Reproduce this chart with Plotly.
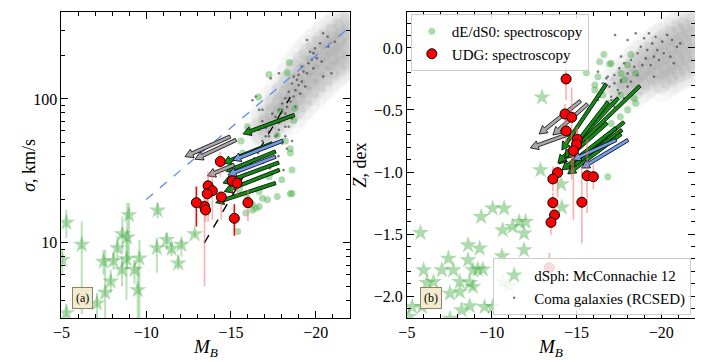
import math
import plotly.graph_objects as go

FONT = "Liberation Serif"

# ---------------- data ----------------
# Coma galaxies (RCSED): dense background cloud (panel a: M_B, sigma; panel b: M_B, Z)
coma_cloud_a_M = [-22.0, -22.0, -22.0, -22.0, -21.6, -21.6, -21.6, -21.6, -21.2, -21.2, -21.2, -21.2,
                  -20.8, -20.8, -20.8, -20.8, -20.4, -20.4, -20.4, -20.4, -20.0, -20.0, -20.0, -20.0,
                  -19.6, -19.6, -19.6, -19.6, -19.2, -19.2, -19.2, -19.2, -18.8, -18.8, -18.8, -18.8,
                  -18.4, -18.4, -18.4, -18.4, -18.0, -18.0, -18.0, -17.6, -17.6, -17.6, -17.2, -17.2,
                  -17.2, -16.8, -16.8]
coma_cloud_a_sig = [360, 290, 230, 180, 340, 270, 215, 170, 310, 250, 200, 160,
                    285, 230, 185, 145, 260, 210, 165, 130, 235, 190, 150, 118,
                    210, 170, 135, 105, 185, 150, 120, 95, 160, 130, 104, 84,
                    135, 110, 90, 74, 115, 95, 78, 95, 80, 66, 80, 68,
                    57, 66, 56]
coma_cloud_b_M = [-22.0, -22.0, -22.0, -22.0, -21.6, -21.6, -21.6, -21.6, -21.2, -21.2, -21.2, -21.2,
                  -20.8, -20.8, -20.8, -20.8, -20.4, -20.4, -20.4, -20.4, -20.0, -20.0, -20.0, -20.0,
                  -19.6, -19.6, -19.6, -19.2, -19.2, -19.2, -18.8, -18.8, -18.8, -18.4, -18.4, -18.4,
                  -18.0, -18.0, -17.6, -17.6, -17.2]
coma_cloud_b_Z = [0.22, 0.10, -0.02, -0.14, 0.20, 0.08, -0.04, -0.16, 0.17, 0.05, -0.07, -0.19,
                  0.14, 0.02, -0.10, -0.22, 0.10, -0.02, -0.14, -0.25, 0.06, -0.06, -0.18, -0.29,
                  0.02, -0.10, -0.22, -0.03, -0.14, -0.26, -0.08, -0.19, -0.30, -0.13, -0.24, -0.35,
                  -0.19, -0.30, -0.25, -0.36, -0.31]

# Coma galaxies (RCSED): individual galaxies
coma_a_M = [-20.44, -20.70, -19.48, -19.96, -19.67, -19.86, -20.06, -19.77, -20.35, -19.57, -19.18, -19.28,
            -19.48, -18.99, -18.70, -18.89, -19.18, -18.60, -18.99, -19.38, -18.80, -18.41, -19.09, -18.70,
            -18.21, -18.02, -18.50, -18.31, -18.80, -17.83, -18.21, -17.63, -18.60, -17.44, -17.92, -17.05,
            -17.83, -18.41, -17.24, -17.73, -18.21, -16.86, -17.53, -18.02, -18.60, -16.66, -16.27, -17.83,
            -17.34, -20.93, -20.74, -21.12, -20.25, -19.86, -20.44, -17.24, -17.63, -17.05, -16.66, -18.21,
            -17.83, -17.44, -18.02, -18.60, -16.85, -16.47, -16.86, -17.44, -18.10, -17.00, -16.60, -17.80,
            -16.90, -18.30, -17.30]
coma_a_sig = [286, 271, 257, 225, 213, 208, 192, 187, 182, 177, 168, 155,
              151, 147, 143, 136, 132, 128, 125, 122, 115, 112, 109, 104,
              101, 93, 96, 88, 88, 84, 79, 75, 75, 68, 70, 63,
              61, 64, 55, 56, 55, 51, 49, 49, 51, 84, 98, 151,
              139, 151, 231, 250, 244, 163, 143, 59, 55, 55, 61, 64,
              68, 79, 84, 73, 70, 104, 84, 30, 32, 45, 42, 40,
              36, 45, 33]
coma_b_M = [-17.28, -18.02, -18.50, -18.99, -19.28, -19.67, -20.06, -20.35, -20.64, -20.93, -19.47, -18.80,
            -19.18, -19.77, -20.15, -19.57, -19.09, -18.60, -18.21, -17.82, -17.53, -18.41, -18.89, -19.38,
            -19.86, -18.02, -18.60, -17.24, -17.63, -18.21, -16.95, -17.44, -16.56, -16.37, -17.05, -17.82,
            -18.41, -16.76, -16.27, -17.63, -20.54, -19.57, -21.12, -20.74, -16.85, -17.24, -17.63, -16.46,
            -17.05, -17.53, -18.02, -16.76, -17.24, -16.27]
coma_b_Z = [0.104, 0.064, 0.118, 0.078, 0.118, 0.091, 0.051, 0.104, 0.064, 0.010, 0.037, 0.010,
            -0.017, -0.017, -0.043, -0.070, -0.084, -0.043, -0.097, -0.124, -0.164, -0.151, -0.138, -0.138,
            -0.097, -0.205, -0.218, -0.218, -0.272, -0.272, -0.312, -0.339, -0.285, -0.393, -0.420, -0.406,
            -0.353, -0.245, -0.191, -0.070, -0.070, -0.232, 0.037, -0.124, -0.231, -0.285, -0.258, -0.339,
            -0.393, -0.366, -0.312, -0.446, -0.473, -0.420]

# dE/dS0: spectroscopy
de_a_M = [-18.45, -17.24, -18.31, -16.62, -18.76, -17.92, -18.70, -17.73, -18.50, -18.21, -15.98, -15.59,
          -15.69, -18.60, -18.50, -17.15, -16.47, -16.27, -16.66, -15.98, -15.50, -17.73, -15.40, -15.88,
          -18.00, -17.24, -18.60, -18.50, -16.66, -16.27, -16.86]
de_a_sig = [179, 148, 152, 103, 86, 82, 71, 56, 45, 51, 64, 51,
            42, 22, 42, 19.9, 17.4, 18.4, 22.7, 20.4, 23.6, 21.0, 12.0, 16.1,
            27.4, 28.8, 32.1, 21.9, 17.9, 16.8, 20.4]
de_b_M = [-16.62, -16.37, -16.95, -18.21, -18.02, -15.59, -16.27, -16.08, -16.56, -17.63, -18.41, -18.50,
          -17.63, -17.24, -17.05, -16.08, -17.82, -18.50, -18.02, -16.85, -17.05, -16.85, -17.59]
de_b_Z = [-0.052, -0.111, -0.130, -0.052, -0.137, -0.199, -0.232, -0.339, -0.379, -0.379, -0.406, -0.205,
          -0.205, -0.433, -0.124, -0.299, -0.258, -0.446, -0.500, -0.446, -0.608, -1.038, -0.554]

# dSph: McConnachie 12
dsph_a_M = [-5.29, -6.20, -8.98, -10.67, -8.59, -8.88, -8.30, -7.48, -8.07, -8.84, -9.60, -8.57, -9.31,
            -7.91, -7.58, -9.50, -7.10, -5.29, -5.05, -10.63, -11.21, -11.50, -12.08, -11.89, -12.86]
dsph_a_sig = [13.8, 9.7, 15.6, 16.8, 11.5, 10.9, 9.2, 7.4, 7.5, 7.7, 7.8, 6.5, 6.5,
              5.4, 4.5, 4.7, 3.8, 3.25, 7.6, 9.2, 10.5, 9.1, 9.7, 7.2, 11.5]
dsph_a_err_plus = [3.1, 4.4, 3.3, 2.1, 3.7, 8.0, 1.9, 1.5, 1.0, 2.8, 2.7, 1.5, 1.1,
                   1.1, 4.4, 2.2, 0.7, 0.5, 1.5, 1.6, 1.2, 1.0, 0.8, 1.1, 0.5]
dsph_a_err_minus = [3.0, 6.5, 8.0, 2.0, 3.0, 4.3, 1.6, 1.4, 1.0, 3.7, 4.9, 1.5, 1.3,
                    0.9, 1.6, 1.8, 0.9, 0.3, 1.5, 3.0, 1.6, 1.0, 1.7, 0.7, 0.5]
dsph_b_M = [-5.80, -10.06, -10.74, -9.38, -10.65, -11.23, -11.62, -12.00, -11.91, -11.91, -8.61, -9.29,
            -7.45, -8.61, -5.99, -7.06, -7.74, -8.90, -9.19, -9.48, -10.61, -6.57, -6.18, -8.12, -8.71,
            -7.54, -8.12, -8.90, -10.65, -11.03, -5.31, -5.89, -8.71, -8.22, -9.58, -10.06, -7.54, -5.12,
            -14.14, -14.10, -12.97, -12.88]
dsph_b_Z = [-1.490, -1.293, -1.293, -1.361, -1.468, -1.441, -1.401, -1.401, -1.495, -1.629, -1.589, -1.616,
            -1.697, -1.710, -1.791, -1.791, -1.791, -1.791, -1.785, -1.785, -1.678, -1.885, -1.893, -1.885,
            -1.893, -1.979, -1.966, -1.925, -1.885, -1.920, -2.087, -2.087, -2.081, -2.113, -2.087, -2.087,
            -2.181, -2.167, -1.285, -1.097, -0.398, -0.984]

# UDG: spectroscopy (panel a)
udg_a_M = [-14.37, -13.65, -13.90, -13.60, -15.07, -15.36, -14.43, -13.44, -13.50, -16.00]
udg_a_sig = [36.7, 24.9, 23.0, 21.9, 26.9, 26.0, 20.8, 17.9, 16.9, 19.0]
udg_a_err_plus = [6.3, 6.4, 7.5, 4.1, 2.6, 2.0, 1.9, 6.7, 3.1, 4.4]
udg_a_err_minus = [7.9, 10.9, 8.5, 3.9, 4.3, 4.5, 6.3, 12.9, 2.9, 4.9]
udg_a2_M = [-12.96, -15.20]
udg_a2_sig = [19.0, 14.8]
udg_a2_err_plus = [5.6, 3.7]
udg_a2_err_minus = [6.0, 3.6]
# UDG: spectroscopy (panel b)
udg_b_M = [-14.39, -14.33, -14.72, -14.39, -15.05, -15.01, -14.82, -13.89, -13.61, -15.63, -16.00,
           -13.61, -13.71, -13.50, -15.32, -13.40]
udg_b_Z = [-0.250, -0.532, -0.559, -0.669, -0.737, -0.777, -0.828, -1.005, -1.056, -1.030, -1.038,
           -1.247, -1.347, -1.406, -1.244, -1.772]
udg_b_err_plus = [0.17, 0.08, 0.24, 0.10, 0.10, 0.12, 0.10, 0.05, 0.10, 0.30, 0.10, 0.08, 0.10, 0.10, 0.30, 0.12]
udg_b_err_minus = [0.17, 0.08, 0.50, 0.10, 0.10, 0.12, 0.56, 0.20, 0.10, 0.30, 0.10, 0.08, 0.10, 0.10, 0.33, 0.12]

# evolutionary tracks (arrows): start M, start value, end M, end value, kind
arr_a_M0 = [-18.74, -14.95, -15.30, -17.44, -18.06, -17.63, -17.63, -15.19, -17.82, -17.86, -17.63]
arr_a_s0 = [77.4, 54.7, 51.9, 49.2, 51.3, 43.1, 39.7, 34.8, 36.1, 32.1, 26.0]
arr_a_M1 = [-15.71, -12.29, -12.88, -14.53, -15.11, -14.72, -14.82, -13.61, -14.53, -14.60, -14.10]
arr_a_s1 = [57.1, 39.7, 38.1, 35.7, 37.5, 31.3, 29.6, 29.2, 26.0, 22.7, 19.0]
arr_a_kind = ["g", "k", "k", "g", "b", "g", "b", "k", "g", "g", "g"]

arr_b_M0 = [-15.24, -15.65, -14.90, -16.76, -18.74, -17.46, -16.87, -16.81, -17.81, -17.69, -17.63, -17.34,
            -17.34, -18.04]
arr_b_Z0 = [-0.427, -0.452, -0.677, -0.290, -0.306, -0.403, -0.435, -0.605, -0.597, -0.661, -0.694, -0.645,
            -0.742, -0.742]
arr_b_M1 = [-12.80, -13.61, -12.28, -14.14, -13.96, -13.91, -14.31, -14.49, -14.55, -14.84, -14.49, -14.14,
            -14.78, -15.30]
arr_b_Z1 = [-0.694, -0.702, -0.806, -0.823, -0.935, -0.927, -0.887, -0.887, -0.960, -0.952, -1.016, -0.984,
            -0.903, -0.968]
arr_b_kind = ["k", "k", "k", "g", "g", "g", "g", "g", "g", "g", "g", "g", "b", "b"]

# reference relations in panel a
blue_line_M = [-10.0, -22.0]
blue_line_sig = [20.0, 316.0]
black_line_M = [-13.43, -18.5]
black_line_sig = [10.0, 103.0]

# ---------------- layout geometry (page body has an 8px margin) ----------------
OFF = 8
W, H = 703 - OFF, 362 - OFF
LX0, LX1 = 53 - OFF, 345 - OFF
RX0, RX1 = 403 - OFF, 695 - OFF
YT, YB = 12 - OFF, 318 - OFF
XR = [-5, -22]
SIG_R = [3.0, 402.0]
Z_R = [-2.177, 0.290]
LOG_R = [math.log10(SIG_R[0]), math.log10(SIG_R[1])]

ARROW_COL = {"g": "#138a13", "k": "#a8a8a8", "b": "#6f9be8"}


def to_px(x, y, x0, ylog):
    px = x0 + (x - XR[0]) / (XR[1] - XR[0]) * (LX1 - LX0)
    if ylog:
        f = (math.log10(y) - LOG_R[0]) / (LOG_R[1] - LOG_R[0])
    else:
        f = (y - Z_R[0]) / (Z_R[1] - Z_R[0])
    return px, f * (YB - YT)


def from_px(px, py, x0, ylog):
    x = XR[0] + (px - x0) / (LX1 - LX0) * (XR[1] - XR[0])
    f = py / (YB - YT)
    if ylog:
        y = 10 ** (LOG_R[0] + f * (LOG_R[1] - LOG_R[0]))
    else:
        y = Z_R[0] + f * (Z_R[1] - Z_R[0])
    return x, y


def arrow_trace(m0, v0, m1, v1, kind, x0, ylog, xa, ya):
    ax, ay = to_px(m0, v0, x0, ylog)
    bx, by = to_px(m1, v1, x0, ylog)
    dx, dy = bx - ax, by - ay
    L = math.hypot(dx, dy)
    ux, uy = dx / L, dy / L
    nx, ny = -uy, ux
    w, hw, hl = 1.7, 4.6, 8.0
    cx, cy = bx - ux * hl, by - uy * hl
    pts = [(ax + nx * w, ay + ny * w), (cx + nx * w, cy + ny * w), (cx + nx * hw, cy + ny * hw),
           (bx, by), (cx - nx * hw, cy - ny * hw), (cx - nx * w, cy - ny * w), (ax - nx * w, ay - ny * w),
           (ax + nx * w, ay + ny * w)]
    xs, ys = [], []
    for p in pts:
        X, Y = from_px(p[0], p[1], x0, ylog)
        xs.append(X)
        ys.append(Y)
    return go.Scatter(x=xs, y=ys, mode="lines", fill="toself", fillcolor=ARROW_COL[kind],
                      line=dict(color="black", width=0.8), xaxis=xa, yaxis=ya,
                      showlegend=False, hoverinfo="skip")


fig = go.Figure()

GREEN_A = "rgba(60,170,60,0.42)"
GREEN_BAR = "rgba(60,170,60,0.35)"
PINK = "rgba(255,110,110,0.55)"
CLOUD_WIDE = dict(size=36, color="rgba(150,150,150,0.06)", line=dict(width=0))
CLOUD_CORE = dict(size=20, color="rgba(150,150,150,0.10)", line=dict(width=0))
DOTS = dict(size=2.6, color="rgba(70,70,70,0.7)")

# ---- panel a ----
for mk in (CLOUD_WIDE, CLOUD_CORE):
    fig.add_trace(go.Scatter(x=coma_cloud_a_M, y=coma_cloud_a_sig, mode="markers", xaxis="x", yaxis="y",
                             marker=mk, showlegend=False, hoverinfo="skip"))
fig.add_trace(go.Scatter(x=coma_a_M, y=coma_a_sig, mode="markers", xaxis="x", yaxis="y",
                         marker=DOTS, showlegend=False))
fig.add_trace(go.Scatter(x=de_a_M, y=de_a_sig, mode="markers", xaxis="x", yaxis="y",
                         marker=dict(size=7, color=GREEN_A), showlegend=False))
fig.add_trace(go.Scatter(x=dsph_a_M, y=dsph_a_sig, mode="markers", xaxis="x", yaxis="y",
                         error_y=dict(type="data", array=dsph_a_err_plus, arrayminus=dsph_a_err_minus,
                                      color=GREEN_BAR, thickness=2, width=0),
                         marker=dict(size=13, symbol="star", color=GREEN_A), showlegend=False))
fig.add_trace(go.Scatter(x=blue_line_M, y=blue_line_sig, mode="lines", xaxis="x", yaxis="y",
                         line=dict(color="#5b8def", width=1.3, dash="dash"), showlegend=False))
fig.add_trace(go.Scatter(x=black_line_M, y=black_line_sig, mode="lines", xaxis="x", yaxis="y",
                         line=dict(color="black", width=1.4, dash="dash"), showlegend=False))
for i in range(len(arr_a_M0)):
    fig.add_trace(arrow_trace(arr_a_M0[i], arr_a_s0[i], arr_a_M1[i], arr_a_s1[i], arr_a_kind[i],
                              LX0, True, "x", "y"))
fig.add_trace(go.Scatter(x=udg_a_M, y=udg_a_sig, mode="markers", xaxis="x", yaxis="y",
                         error_y=dict(type="data", array=udg_a_err_plus, arrayminus=udg_a_err_minus,
                                      color=PINK, thickness=1.6, width=0),
                         marker=dict(size=10, color="red", line=dict(color="black", width=1)),
                         showlegend=False))
fig.add_trace(go.Scatter(x=udg_a2_M, y=udg_a2_sig, mode="markers", xaxis="x", yaxis="y",
                         error_y=dict(type="data", array=udg_a2_err_plus, arrayminus=udg_a2_err_minus,
                                      color="red", thickness=1.6, width=0),
                         marker=dict(size=10, color="red", line=dict(color="black", width=1)),
                         showlegend=False))

# ---- panel b ----
for mk in (CLOUD_WIDE, CLOUD_CORE):
    fig.add_trace(go.Scatter(x=coma_cloud_b_M, y=coma_cloud_b_Z, mode="markers", xaxis="x2", yaxis="y2",
                             marker=mk, showlegend=False, hoverinfo="skip"))
fig.add_trace(go.Scatter(x=coma_b_M, y=coma_b_Z, mode="markers", xaxis="x2", yaxis="y2",
                         marker=DOTS, name="Coma galaxies (RCSED)", legend="legend2", legendrank=2))
fig.add_trace(go.Scatter(x=de_b_M, y=de_b_Z, mode="markers", xaxis="x2", yaxis="y2",
                         marker=dict(size=7, color=GREEN_A), name="dE/dS0: spectroscopy",
                         legend="legend", legendrank=1))
fig.add_trace(go.Scatter(x=dsph_b_M, y=dsph_b_Z, mode="markers", xaxis="x2", yaxis="y2",
                         marker=dict(size=13, symbol="star", color=GREEN_A),
                         name="dSph: McConnachie 12", legend="legend2", legendrank=1))
for i in range(len(arr_b_M0)):
    fig.add_trace(arrow_trace(arr_b_M0[i], arr_b_Z0[i], arr_b_M1[i], arr_b_Z1[i], arr_b_kind[i],
                              RX0, False, "x2", "y2"))
fig.add_trace(go.Scatter(x=udg_b_M, y=udg_b_Z, mode="markers", xaxis="x2", yaxis="y2",
                         error_y=dict(type="data", array=udg_b_err_plus, arrayminus=udg_b_err_minus,
                                      color=PINK, thickness=1.6, width=0),
                         marker=dict(size=10, color="red", line=dict(color="black", width=1)),
                         name="UDG: spectroscopy", legend="legend", legendrank=2))

# ---------------- axes ----------------
tickfont = dict(family=FONT, size=16, color="black")
common = dict(showline=True, linecolor="black", linewidth=1, mirror="allticks", ticks="inside",
              ticklen=7, tickwidth=1, tickcolor="black", showgrid=False, zeroline=False,
              tickfont=tickfont)
xcommon = dict(common, range=XR, tickvals=[-5, -10, -15, -20],
               minor=dict(dtick=1, tick0=0, ticks="inside", ticklen=4, tickcolor="black", showgrid=False))
ydom = [1 - YB / H, 1 - YT / H]
minor_sig = [4, 5, 6, 7, 8, 9, 20, 30, 40, 50, 60, 70, 80, 90, 200, 300, 400]


def px_x(p):
    return (p - OFF) / W


def px_y(p):
    return 1 - (p - OFF) / H


def label(text, x, y, angle=0, size=18):
    return dict(text=text, x=px_x(x), y=px_y(y), xref="paper", yref="paper", textangle=angle,
                xanchor="center", yanchor="middle", showarrow=False, font=dict(family=FONT, size=size))


def panel_tag(text, x, y):
    return dict(text=text, x=px_x(x), y=px_y(y), xref="paper", yref="paper", xanchor="center",
                yanchor="middle", showarrow=False, bgcolor="#f3ebcf", bordercolor="#8c8466",
                borderwidth=1, borderpad=3, font=dict(family=FONT, size=12))


fig.update_layout(
    width=W, height=H, margin=dict(l=0, r=0, t=0, b=0),
    paper_bgcolor="white", plot_bgcolor="white",
    font=dict(family=FONT, size=15, color="black"),
    xaxis=dict(xcommon, domain=[LX0 / W, LX1 / W], anchor="y"),
    yaxis=dict(common, type="log", range=LOG_R, domain=ydom, anchor="x", tickvals=[10, 100],
               ticktext=["10", "100"],
               minor=dict(tickvals=minor_sig, ticks="inside", ticklen=4, tickcolor="black", showgrid=False)),
    xaxis2=dict(xcommon, domain=[RX0 / W, RX1 / W], anchor="y2"),
    yaxis2=dict(common, range=Z_R, domain=ydom, anchor="x2", tickvals=[0, -0.5, -1.0, -1.5, -2.0],
                ticktext=["0.0", "\u22120.5", "\u22121.0", "\u22121.5", "\u22122.0"],
                minor=dict(dtick=0.1, tick0=0, ticks="inside", ticklen=4, tickcolor="black", showgrid=False)),
    legend=dict(x=px_x(407), y=px_y(14), xanchor="left", yanchor="top",
                bgcolor="rgba(255,255,255,0.85)", bordercolor="#cccccc", borderwidth=1,
                font=dict(family=FONT, size=15), itemwidth=30, tracegroupgap=0),
    legend2=dict(x=px_x(691), y=px_y(315), xanchor="right", yanchor="bottom",
                 bgcolor="rgba(255,255,255,0.85)", bordercolor="#cccccc", borderwidth=1,
                 font=dict(family=FONT, size=15), itemwidth=30, tracegroupgap=0),
    annotations=[
        label("<i>M</i><sub><i>B</i></sub>", 199, 348, size=19),
        label("<i>M</i><sub><i>B</i></sub>", 549, 348, size=19),
        label("<i>σ</i>, km/s", 20, 165, angle=-90),
        label("<i>Z</i>, dex", 356, 165, angle=-90),
        panel_tag("(a)", 74, 298),
        panel_tag("(b)", 427, 298),
    ],
)

fig.write_html("out.html")
